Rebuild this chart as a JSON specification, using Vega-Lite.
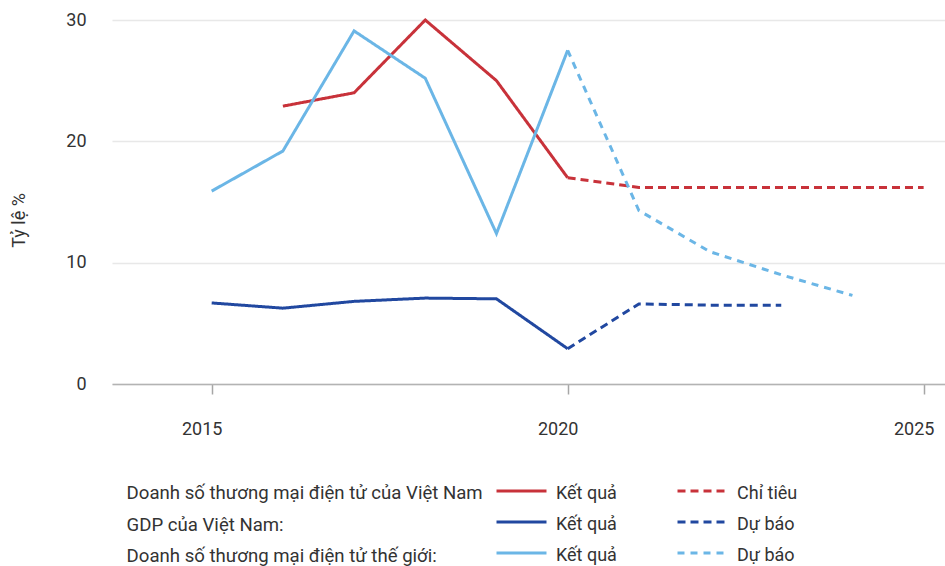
{
  "$schema": "https://vega.github.io/schema/vega-lite/v6.json",
  "width": 833,
  "height": 364,
  "autosize": {"type": "none"},
  "padding": {"left": 112, "top": 20, "right": 0, "bottom": 182},
  "background": "white",
  "config": {
    "font": "Roboto",
    "view": {"stroke": null},
    "text": {"color": "#333333"}
  },
  "data": {
    "values": [
      {"year": 2016, "value": 22.9, "series": "Doanh số thương mại điện tử của Việt Nam", "key": "VN|Kết quả"},
      {"year": 2017, "value": 24.0, "series": "Doanh số thương mại điện tử của Việt Nam", "key": "VN|Kết quả"},
      {"year": 2018, "value": 30.0, "series": "Doanh số thương mại điện tử của Việt Nam", "key": "VN|Kết quả"},
      {"year": 2019, "value": 25.0, "series": "Doanh số thương mại điện tử của Việt Nam", "key": "VN|Kết quả"},
      {"year": 2020, "value": 17.0, "series": "Doanh số thương mại điện tử của Việt Nam", "key": "VN|Kết quả"},
      {"year": 2020, "value": 17.0, "series": "Doanh số thương mại điện tử của Việt Nam", "key": "VN|Chỉ tiêu"},
      {"year": 2021, "value": 16.2, "series": "Doanh số thương mại điện tử của Việt Nam", "key": "VN|Chỉ tiêu"},
      {"year": 2022, "value": 16.2, "series": "Doanh số thương mại điện tử của Việt Nam", "key": "VN|Chỉ tiêu"},
      {"year": 2023, "value": 16.2, "series": "Doanh số thương mại điện tử của Việt Nam", "key": "VN|Chỉ tiêu"},
      {"year": 2024, "value": 16.2, "series": "Doanh số thương mại điện tử của Việt Nam", "key": "VN|Chỉ tiêu"},
      {"year": 2025, "value": 16.2, "series": "Doanh số thương mại điện tử của Việt Nam", "key": "VN|Chỉ tiêu"},
      {"year": 2015, "value": 6.68, "series": "GDP của Việt Nam:", "key": "GDP|Kết quả"},
      {"year": 2016, "value": 6.25, "series": "GDP của Việt Nam:", "key": "GDP|Kết quả"},
      {"year": 2017, "value": 6.81, "series": "GDP của Việt Nam:", "key": "GDP|Kết quả"},
      {"year": 2018, "value": 7.08, "series": "GDP của Việt Nam:", "key": "GDP|Kết quả"},
      {"year": 2019, "value": 7.02, "series": "GDP của Việt Nam:", "key": "GDP|Kết quả"},
      {"year": 2020, "value": 2.91, "series": "GDP của Việt Nam:", "key": "GDP|Kết quả"},
      {"year": 2020, "value": 2.91, "series": "GDP của Việt Nam:", "key": "GDP|Dự báo"},
      {"year": 2021, "value": 6.6, "series": "GDP của Việt Nam:", "key": "GDP|Dự báo"},
      {"year": 2022, "value": 6.5, "series": "GDP của Việt Nam:", "key": "GDP|Dự báo"},
      {"year": 2023, "value": 6.5, "series": "GDP của Việt Nam:", "key": "GDP|Dự báo"},
      {"year": 2015, "value": 15.9, "series": "Doanh số thương mại điện tử thế giới:", "key": "TG|Kết quả"},
      {"year": 2016, "value": 19.2, "series": "Doanh số thương mại điện tử thế giới:", "key": "TG|Kết quả"},
      {"year": 2017, "value": 29.1, "series": "Doanh số thương mại điện tử thế giới:", "key": "TG|Kết quả"},
      {"year": 2018, "value": 25.2, "series": "Doanh số thương mại điện tử thế giới:", "key": "TG|Kết quả"},
      {"year": 2019, "value": 12.4, "series": "Doanh số thương mại điện tử thế giới:", "key": "TG|Kết quả"},
      {"year": 2020, "value": 27.5, "series": "Doanh số thương mại điện tử thế giới:", "key": "TG|Kết quả"},
      {"year": 2020, "value": 27.5, "series": "Doanh số thương mại điện tử thế giới:", "key": "TG|Dự báo"},
      {"year": 2021, "value": 14.3, "series": "Doanh số thương mại điện tử thế giới:", "key": "TG|Dự báo"},
      {"year": 2022, "value": 10.9, "series": "Doanh số thương mại điện tử thế giới:", "key": "TG|Dự báo"},
      {"year": 2023, "value": 9.0, "series": "Doanh số thương mại điện tử thế giới:", "key": "TG|Dự báo"},
      {"year": 2024, "value": 7.3, "series": "Doanh số thương mại điện tử thế giới:", "key": "TG|Dự báo"}
    ]
  },
  "mark": {"type": "line", "strokeWidth": 3, "clip": false},
  "encoding": {
    "x": {
      "field": "year",
      "type": "quantitative",
      "scale": {"domain": [2013.6, 2025.3], "nice": false, "zero": false},
      "axis": {
        "title": null,
        "values": [2015, 2020, 2025],
        "format": "d",
        "grid": false,
        "tickSize": 10,
        "tickColor": "#a6a6a6",
        "tickWidth": 1.5,
        "domainColor": "#b3b3b3",
        "domainWidth": 1.5,
        "labelFontSize": 18,
        "labelColor": "#333333",
        "labelPadding": 26,
        "labelOffset": -10,
        "labelFlush": false
      }
    },
    "y": {
      "field": "value",
      "type": "quantitative",
      "scale": {"domain": [0, 30], "nice": false},
      "axis": {
        "title": "Tỷ lệ %",
        "values": [0, 10, 20, 30],
        "grid": true,
        "gridColor": "#e8e8e8",
        "gridWidth": 1.5,
        "domain": false,
        "ticks": false,
        "tickSize": 0,
        "labelFontSize": 18,
        "labelColor": "#333333",
        "labelPadding": 26,
        "titleFontSize": 18,
        "titleFontWeight": "normal",
        "titleColor": "#333333",
        "titleAngle": -90,
        "titleX": -93,
        "titleY": 200,
        "titleAlign": "center",
        "titleBaseline": "middle"
      }
    },
    "color": {
      "field": "series",
      "type": "nominal",
      "scale": {
        "domain": ["Doanh số thương mại điện tử của Việt Nam", "GDP của Việt Nam:", "Doanh số thương mại điện tử thế giới:"],
        "range": ["#c8323a", "#2148a0", "#6bb6e6"]
      },
      "legend": {
        "title": null,
        "orient": "none",
        "legendX": -4,
        "legendY": 464,
        "direction": "vertical",
        "symbolOpacity": 0,
        "symbolSize": 0,
        "labelOffset": 0,
        "labelFontSize": 18.6,
        "labelColor": "#333333",
        "labelLimit": 600,
        "rowPadding": 12.4
      }
    },
    "strokeDash": {
      "field": "key",
      "type": "nominal",
      "scale": {
        "domain": ["VN|Kết quả", "GDP|Kết quả", "TG|Kết quả", "VN|Chỉ tiêu", "GDP|Dự báo", "TG|Dự báo"],
        "range": [[1, 0], [1, 0], [1, 0], [8, 5], [8, 5], [7, 6]]
      },
      "legend": {
        "title": null,
        "orient": "none",
        "legendX": 383,
        "legendY": 458,
        "columns": 2,
        "columnPadding": 59,
        "rowPadding": 5,
        "clipHeight": 26,
        "symbolType": "stroke",
        "symbolSize": 2500,
        "symbolStrokeWidth": 3,
        "labelOffset": 8,
        "labelFontSize": 18,
        "labelColor": "#333333",
        "labelExpr": "split(datum.label, '|')[1]",
        "encode": {
          "symbols": {"update": {"stroke": {"signal": "indexof(datum.value, 'VN') == 0 ? '#c8323a' : indexof(datum.value, 'GDP') == 0 ? '#2148a0' : '#6bb6e6'"}}},
          "labels": {"update": {"dy": {"value": 3}}}
        }
      }
    }
  }
}
